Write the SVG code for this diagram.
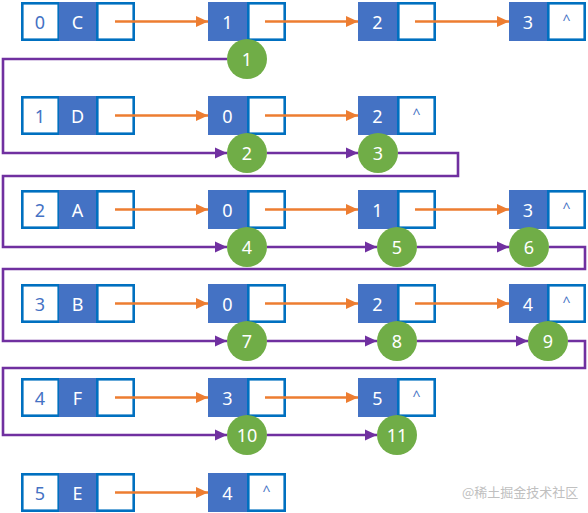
<svg xmlns="http://www.w3.org/2000/svg" width="588" height="513" viewBox="0 0 588 513">
<style>
.w{fill:#fff;stroke:#0070C0;stroke-width:2.6}
.d{fill:#4472C4}
.t{font-family:"Noto Sans","Open Sans",sans-serif;font-size:18px;text-anchor:middle;dominant-baseline:central}
.tb{fill:#4472C4}
.tw{fill:#fff}
.c{font-size:14px;fill:#4472C4}
.o{stroke:#ED7D31;stroke-width:2.6;fill:none}
.p{stroke:#7030A0;stroke-width:2.6;fill:none}
.g{fill:#70AD47}
.wm{font-family:"Noto Sans CJK SC","Noto Sans",sans-serif;font-size:13px;fill:#c0c0c0}
</style>
<defs>
<marker id="ao" markerUnits="userSpaceOnUse" markerWidth="13" markerHeight="12" refX="12" refY="6" orient="auto"><path d="M0,0.5 L12,6 L0,11.5 z" fill="#ED7D31"/></marker>
<marker id="ap" markerUnits="userSpaceOnUse" markerWidth="13" markerHeight="12" refX="12" refY="6" orient="auto"><path d="M0,0.5 L12,6 L0,11.5 z" fill="#7030A0"/></marker>
</defs>
<rect width="588" height="513" fill="#fff"/>

<!-- row 1 -->
<g id="h0"><rect class="w" x="22.3" y="3.3" width="36.4" height="36.4"/><rect class="d" x="59" y="2" width="37" height="39"/><rect class="w" x="97.3" y="3.3" width="36.4" height="36.4"/><text class="t tb" x="40" y="21.5">0</text><text class="t tw" x="77.5" y="21.5">C</text></g>
<g id="r0n1"><rect class="d" x="208" y="2" width="39" height="39"/><rect class="w" x="248.3" y="3.3" width="36.4" height="36.4"/><text class="t tw" x="227.5" y="21.5">1</text></g>
<g id="r0n2"><rect class="d" x="358" y="2" width="39" height="39"/><rect class="w" x="398.3" y="3.3" width="36.4" height="36.4"/><text class="t tw" x="377.5" y="21.5">2</text></g>
<g id="r0n3"><rect class="d" x="509" y="2" width="38" height="39"/><rect class="w" x="548.3" y="3.3" width="36.4" height="36.4"/><text class="t tw" x="528" y="21.5">3</text><text class="t c" x="566.5" y="19">^</text></g>

<!-- row 2 -->
<g id="h1"><rect class="w" x="22.3" y="97.3" width="36.4" height="36.4"/><rect class="d" x="59" y="96" width="37" height="39"/><rect class="w" x="97.3" y="97.3" width="36.4" height="36.4"/><text class="t tb" x="40" y="115.5">1</text><text class="t tw" x="77.5" y="115.5">D</text></g>
<g id="r1n1"><rect class="d" x="208" y="96" width="39" height="39"/><rect class="w" x="248.3" y="97.3" width="36.4" height="36.4"/><text class="t tw" x="227.5" y="115.5">0</text></g>
<g id="r1n2"><rect class="d" x="358" y="96" width="39" height="39"/><rect class="w" x="398.3" y="97.3" width="36.4" height="36.4"/><text class="t tw" x="377.5" y="115.5">2</text><text class="t c" x="416.5" y="113">^</text></g>

<!-- row 3 -->
<g id="h2"><rect class="w" x="22.3" y="191.3" width="36.4" height="36.4"/><rect class="d" x="59" y="190" width="37" height="39"/><rect class="w" x="97.3" y="191.3" width="36.4" height="36.4"/><text class="t tb" x="40" y="209.5">2</text><text class="t tw" x="77.5" y="209.5">A</text></g>
<g id="r2n1"><rect class="d" x="208" y="190" width="39" height="39"/><rect class="w" x="248.3" y="191.3" width="36.4" height="36.4"/><text class="t tw" x="227.5" y="209.5">0</text></g>
<g id="r2n2"><rect class="d" x="358" y="190" width="39" height="39"/><rect class="w" x="398.3" y="191.3" width="36.4" height="36.4"/><text class="t tw" x="377.5" y="209.5">1</text></g>
<g id="r2n3"><rect class="d" x="509" y="190" width="38" height="39"/><rect class="w" x="548.3" y="191.3" width="36.4" height="36.4"/><text class="t tw" x="528" y="209.5">3</text><text class="t c" x="566.5" y="207">^</text></g>

<!-- row 4 -->
<g id="h3"><rect class="w" x="22.3" y="285.3" width="36.4" height="36.4"/><rect class="d" x="59" y="284" width="37" height="39"/><rect class="w" x="97.3" y="285.3" width="36.4" height="36.4"/><text class="t tb" x="40" y="303.5">3</text><text class="t tw" x="77.5" y="303.5">B</text></g>
<g id="r3n1"><rect class="d" x="208" y="284" width="39" height="39"/><rect class="w" x="248.3" y="285.3" width="36.4" height="36.4"/><text class="t tw" x="227.5" y="303.5">0</text></g>
<g id="r3n2"><rect class="d" x="358" y="284" width="39" height="39"/><rect class="w" x="398.3" y="285.3" width="36.4" height="36.4"/><text class="t tw" x="377.5" y="303.5">2</text></g>
<g id="r3n3"><rect class="d" x="509" y="284" width="38" height="39"/><rect class="w" x="548.3" y="285.3" width="36.4" height="36.4"/><text class="t tw" x="528" y="303.5">4</text><text class="t c" x="566.5" y="301">^</text></g>

<!-- row 5 -->
<g id="h4"><rect class="w" x="22.3" y="379.3" width="36.4" height="36.4"/><rect class="d" x="59" y="378" width="37" height="39"/><rect class="w" x="97.3" y="379.3" width="36.4" height="36.4"/><text class="t tb" x="40" y="397.5">4</text><text class="t tw" x="77.5" y="397.5">F</text></g>
<g id="r4n1"><rect class="d" x="208" y="378" width="39" height="39"/><rect class="w" x="248.3" y="379.3" width="36.4" height="36.4"/><text class="t tw" x="227.5" y="397.5">3</text></g>
<g id="r4n2"><rect class="d" x="358" y="378" width="39" height="39"/><rect class="w" x="398.3" y="379.3" width="36.4" height="36.4"/><text class="t tw" x="377.5" y="397.5">5</text><text class="t c" x="416.5" y="395">^</text></g>

<!-- row 6 -->
<g id="h5"><rect class="w" x="22.3" y="474.3" width="36.4" height="36.4"/><rect class="d" x="59" y="473" width="37" height="39"/><rect class="w" x="97.3" y="474.3" width="36.4" height="36.4"/><text class="t tb" x="40" y="492.5">5</text><text class="t tw" x="77.5" y="492.5">E</text></g>
<g id="r5n1"><rect class="d" x="208" y="473" width="39" height="39"/><rect class="w" x="248.3" y="474.3" width="36.4" height="36.4"/><text class="t tw" x="227.5" y="492.5">4</text><text class="t c" x="266.5" y="490">^</text></g>

<g id="connectors">
<path class="o" marker-end="url(#ao)" d="M115,21.5 H208"/>
<path class="o" marker-end="url(#ao)" d="M265,21.5 H358"/>
<path class="o" marker-end="url(#ao)" d="M415,21.5 H509"/>
<path class="o" marker-end="url(#ao)" d="M115,115.5 H208"/>
<path class="o" marker-end="url(#ao)" d="M265,115.5 H358"/>
<path class="o" marker-end="url(#ao)" d="M115,209.5 H208"/>
<path class="o" marker-end="url(#ao)" d="M265,209.5 H358"/>
<path class="o" marker-end="url(#ao)" d="M415,209.5 H509"/>
<path class="o" marker-end="url(#ao)" d="M115,303.5 H208"/>
<path class="o" marker-end="url(#ao)" d="M265,303.5 H358"/>
<path class="o" marker-end="url(#ao)" d="M415,303.5 H509"/>
<path class="o" marker-end="url(#ao)" d="M115,397.5 H208"/>
<path class="o" marker-end="url(#ao)" d="M265,397.5 H358"/>
<path class="o" marker-end="url(#ao)" d="M115,492.5 H208"/>

<path class="p" marker-end="url(#ap)" d="M227,59 H3 V153 H227"/>
<path class="p" marker-end="url(#ap)" d="M267,153 H358"/>
<path class="p" marker-end="url(#ap)" d="M398,153 H458 V176 H3 V247 H227"/>
<path class="p" marker-end="url(#ap)" d="M267,247 H377"/>
<path class="p" marker-end="url(#ap)" d="M417,247 H509"/>
<path class="p" marker-end="url(#ap)" d="M549,247 H585 V269 H3 V341 H227"/>
<path class="p" marker-end="url(#ap)" d="M267,341 H377"/>
<path class="p" marker-end="url(#ap)" d="M417,341 H528"/>
<path class="p" marker-end="url(#ap)" d="M568,341 H585 V368 H3 V435 H227"/>
<path class="p" marker-end="url(#ap)" d="M267,435 H377"/>
</g>

<g id="s1"><circle class="g" cx="247" cy="59" r="20"/><text class="t tw" x="247" y="59">1</text></g>
<g id="s2"><circle class="g" cx="247" cy="153" r="20"/><text class="t tw" x="247" y="153">2</text></g>
<g id="s3"><circle class="g" cx="378" cy="153" r="20"/><text class="t tw" x="378" y="153">3</text></g>
<g id="s4"><circle class="g" cx="247" cy="247" r="20"/><text class="t tw" x="247" y="247">4</text></g>
<g id="s5"><circle class="g" cx="397" cy="247" r="20"/><text class="t tw" x="397" y="247">5</text></g>
<g id="s6"><circle class="g" cx="529" cy="247" r="20"/><text class="t tw" x="529" y="247">6</text></g>
<g id="s7"><circle class="g" cx="247" cy="341" r="20"/><text class="t tw" x="247" y="341">7</text></g>
<g id="s8"><circle class="g" cx="397" cy="341" r="20"/><text class="t tw" x="397" y="341">8</text></g>
<g id="s9"><circle class="g" cx="548" cy="341" r="20"/><text class="t tw" x="548" y="341">9</text></g>
<g id="s10"><circle class="g" cx="247" cy="435" r="20"/><text class="t tw" x="247" y="435">10</text></g>
<g id="s11"><circle class="g" cx="397" cy="435" r="20"/><text class="t tw" x="397" y="435">11</text></g>

<text class="wm" x="462" y="497">@稀土掘金技术社区</text>
</svg>
